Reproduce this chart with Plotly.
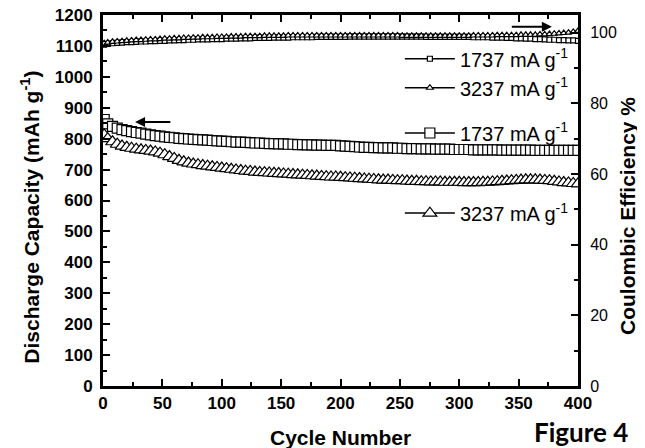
import plotly.graph_objects as go

# cycle numbers (sampled every 4 cycles)
cycles = [1] + list(range(4, 401, 4))

# discharge capacity, mAh g-1
cap_1737 = [
    862, 848, 840, 834, 829, 826, 823, 820, 818, 815,
    812, 810, 808, 806, 804, 803, 801, 800, 799, 798,
    797, 796, 795, 794, 793, 792, 791, 790, 789, 789,
    788, 787, 786, 786, 785, 784, 784, 783, 783, 782,
    782, 781, 781, 780, 780, 779, 779, 778, 778, 778,
    777, 776, 775, 774, 773, 772, 772, 771, 771, 770,
    770, 770, 769, 769, 768, 768, 768, 767, 767, 767,
    766, 766, 766, 766, 765, 765, 765, 765, 764, 764,
    764, 764, 764, 764, 763, 763, 763, 763, 763, 763,
    763, 762, 762, 762, 762, 762, 762, 762, 762, 762,
    762,
]
cap_3237 = [
    812, 800, 790, 782, 776, 772, 769, 766, 764, 762,
    760, 757, 753, 748, 742, 736, 730, 725, 721, 718,
    716, 713, 711, 709, 707, 705, 703, 701, 699, 697,
    695, 694, 692, 691, 690, 689, 688, 687, 686, 685,
    684, 683, 682, 681, 680, 679, 678, 677, 676, 676,
    675, 674, 673, 672, 671, 670, 669, 668, 667, 666,
    666, 665, 664, 664, 663, 662, 662, 661, 661, 660,
    660, 660, 659, 659, 659, 659, 658, 658, 658, 658,
    659, 659, 660, 661, 662, 663, 664, 665, 666, 667,
    667, 667, 666, 665, 664, 662, 660, 658, 657, 655,
    654,
]

# coulombic efficiency, %
ce_1737 = [
    96.6, 96.8, 97.0, 97.1, 97.2, 97.3, 97.3, 97.4, 97.5, 97.5,
    97.6, 97.6, 97.7, 97.7, 97.8, 97.8, 97.9, 97.9, 98.0, 98.0,
    98.1, 98.1, 98.1, 98.2, 98.2, 98.2, 98.3, 98.3, 98.3, 98.4,
    98.4, 98.4, 98.5, 98.5, 98.5, 98.5, 98.6, 98.6, 98.6, 98.6,
    98.7, 98.7, 98.7, 98.7, 98.7, 98.8, 98.8, 98.8, 98.8, 98.8,
    98.8, 98.8, 98.9, 98.9, 98.9, 98.9, 98.9, 98.9, 98.9, 98.9,
    98.9, 98.9, 98.9, 98.9, 98.9, 98.9, 98.9, 98.9, 98.8, 98.8,
    98.8, 98.8, 98.8, 98.8, 98.8, 98.8, 98.8, 98.8, 98.7, 98.7,
    98.7, 98.7, 98.6, 98.6, 98.6, 98.5, 98.5, 98.4, 98.4, 98.3,
    98.3, 98.2, 98.2, 98.1, 98.0, 98.0, 97.9, 97.9, 97.8, 97.8,
    97.7,
]
ce_3237 = [
    97.0, 97.2, 97.4, 97.5, 97.6, 97.7, 97.8, 97.9, 97.9, 98.0,
    98.1, 98.1, 98.2, 98.3, 98.3, 98.4, 98.4, 98.5, 98.5, 98.6,
    98.6, 98.7, 98.7, 98.7, 98.8, 98.8, 98.8, 98.9, 98.9, 98.9,
    99.0, 99.0, 99.0, 99.0, 99.1, 99.1, 99.1, 99.1, 99.1, 99.2,
    99.2, 99.2, 99.2, 99.2, 99.2, 99.2, 99.2, 99.2, 99.2, 99.2,
    99.2, 99.2, 99.2, 99.2, 99.2, 99.2, 99.2, 99.2, 99.2, 99.2,
    99.2, 99.2, 99.2, 99.1, 99.1, 99.1, 99.1, 99.1, 99.1, 99.1,
    99.1, 99.1, 99.1, 99.1, 99.1, 99.1, 99.1, 99.1, 99.2, 99.2,
    99.2, 99.2, 99.2, 99.3, 99.3, 99.3, 99.3, 99.3, 99.4, 99.4,
    99.4, 99.4, 99.5, 99.5, 99.6, 99.7, 99.8, 99.9, 100.0, 100.2,
    100.5,
]

rate_labels = ["1737 mA g<sup>-1</sup>", "3237 mA g<sup>-1</sup>"]

ARIAL = "Arial, Liberation Sans, sans-serif"


def series(y, name, symbol, size, legend, yaxis="y"):
    return go.Scatter(
        x=cycles,
        y=y,
        name=name,
        mode="lines+markers",
        yaxis=yaxis,
        legend=legend,
        line=dict(color="black", width=1.5),
        marker=dict(
            symbol=symbol,
            size=size,
            color="white",
            line=dict(color="black", width=1.2),
        ),
    )


fig = go.Figure()
fig.add_trace(series(ce_1737, rate_labels[0], "square", 5, "legend", "y2"))
fig.add_trace(series(ce_3237, rate_labels[1], "triangle-up", 6, "legend", "y2"))
fig.add_trace(series(cap_1737, rate_labels[0], "square", 10, "legend2"))
fig.add_trace(series(cap_3237, rate_labels[1], "triangle-up", 12, "legend3"))

legend_style = dict(
    xanchor="left",
    yanchor="middle",
    bgcolor="rgba(0,0,0,0)",
    borderwidth=0,
    font=dict(family=ARIAL, size=20, color="black"),
    itemwidth=50,
    tracegroupgap=0,
)

axis_common = dict(
    showline=True,
    linecolor="black",
    linewidth=3,
    ticks="inside",
    tickwidth=2,
    tickcolor="black",
    showgrid=False,
    zeroline=False,
    ticklabeloverflow="allow",
)

# the page body adds an 8px offset, so the figure is 8px smaller than the window
fig.update_layout(
    width=637,
    height=440,
    margin=dict(l=95, r=67, t=7, b=62, autoexpand=False),
    plot_bgcolor="white",
    paper_bgcolor="white",
    xaxis=dict(
        **axis_common,
        range=[0, 400],
        dtick=50,
        ticklen=7,
        mirror="ticks",
        minor=dict(ticks="inside", dtick=25, ticklen=4, tickwidth=2, tickcolor="black"),
        tickfont=dict(family=ARIAL, size=17, color="black", weight="bold"),
    ),
    yaxis=dict(
        **axis_common,
        range=[0, 1200],
        dtick=100,
        ticklen=7,
        minor=dict(ticks="inside", dtick=50, ticklen=4, tickwidth=2, tickcolor="black"),
        tickfont=dict(family=ARIAL, size=17, color="black", weight="bold"),
        ticklabelstandoff=4,
    ),
    yaxis2=dict(
        **axis_common,
        overlaying="y",
        side="right",
        range=[0, 105],
        dtick=20,
        ticklen=7,
        minor=dict(ticks="inside", dtick=10, ticklen=4, tickwidth=2, tickcolor="black"),
        tickfont=dict(family=ARIAL, size=16, color="black"),
        ticklabelstandoff=6,
    ),
    legend=dict(**legend_style, x=0.625, y=0.843),
    legend2=dict(**legend_style, x=0.625, y=0.682),
    legend3=dict(**legend_style, x=0.625, y=0.466),
)

title_font = dict(family=ARIAL, size=21, color="black", weight="bold")
fig.add_annotation(
    text="Discharge Capacity (mAh g<sup>-1</sup>)",
    xref="paper", yref="paper", x=-0.154, y=0.456,
    xanchor="center", yanchor="middle",
    textangle=-90, showarrow=False, font=title_font,
)
fig.add_annotation(
    text="Coulombic Efficiency %",
    xref="paper", yref="paper", x=1.103, y=0.458,
    xanchor="center", yanchor="middle",
    textangle=-90, showarrow=False, font=title_font,
)
fig.add_annotation(
    text="Cycle Number",
    xref="paper", yref="paper", x=0.5, y=-0.14,
    xanchor="center", yanchor="middle",
    showarrow=False, font=title_font,
)
fig.add_annotation(
    text="Figure 4",
    xref="paper", yref="paper", x=1.006, y=-0.125,
    xanchor="center", yanchor="middle",
    showarrow=False,
    font=dict(family="Lato, Open Sans, sans-serif", size=26, color="black", weight="bold"),
)

# arrows pointing to the relevant axis
fig.add_annotation(
    x=27, y=854, ax=58, ay=854, xref="x", yref="y", axref="x", ayref="y",
    text="", showarrow=True, arrowhead=2, arrowsize=1, arrowwidth=2, arrowcolor="black",
)
fig.add_annotation(
    x=378, y=101.7, ax=343, ay=101.7, xref="x", yref="y2", axref="x", ayref="y2",
    text="", showarrow=True, arrowhead=2, arrowsize=1, arrowwidth=2, arrowcolor="black",
)

fig.write_html("out.html")
